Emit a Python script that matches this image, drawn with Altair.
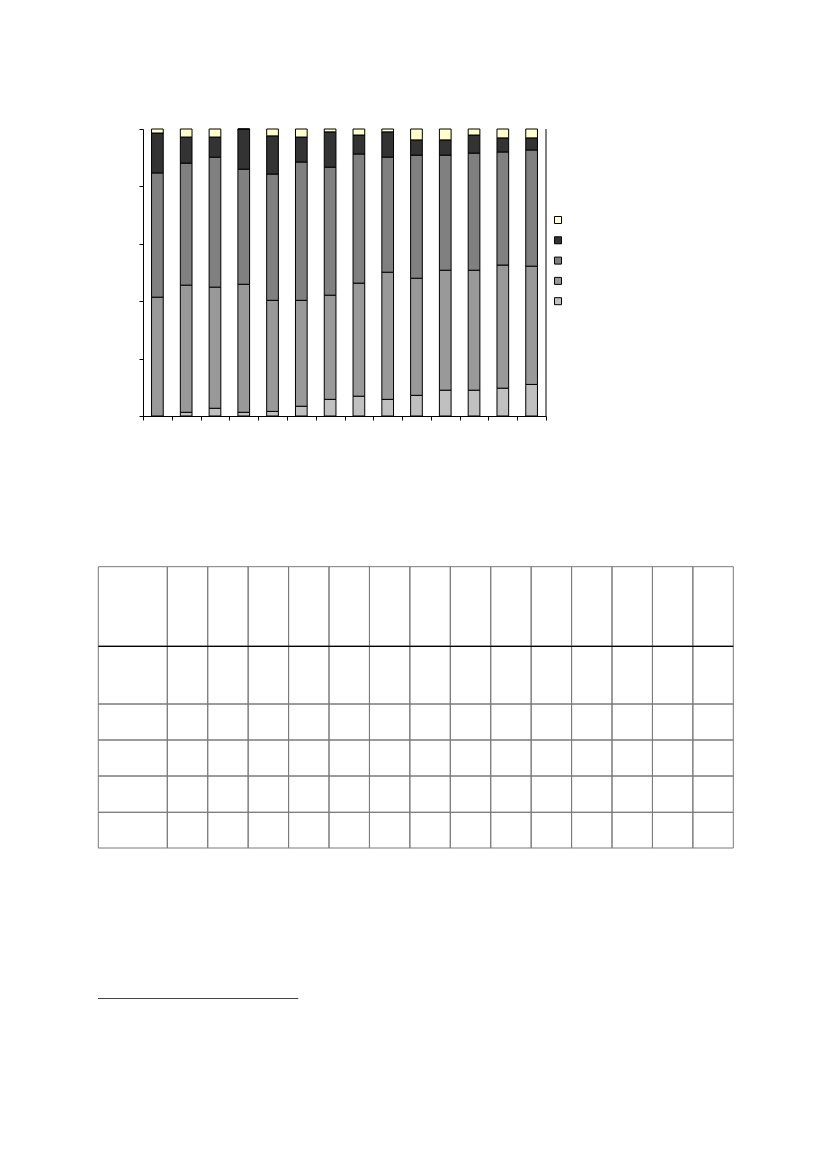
import altair as alt
import pandas as pd

# ---------------- data ----------------
categories = [f"C{i+1}" for i in range(14)]
# series listed bottom -> top of each stacked bar
series = ["S1", "S2", "S3", "S4", "S5"]
s1 = [0.0, 1.3, 2.7, 1.3, 1.6, 3.4, 5.8, 6.9, 5.8, 7.2, 9.0, 9.0, 9.7, 11.0]
s2 = [41.4, 44.3, 42.2, 44.6, 38.7, 36.9, 36.3, 39.4, 44.3, 40.8, 41.8, 41.8, 42.9, 41.2]
s3 = [43.3, 42.5, 45.3, 40.1, 44.0, 48.2, 44.6, 45.0, 40.1, 42.9, 40.1, 40.8, 39.4, 40.5]
s4 = [13.9, 9.1, 7.0, 14.0, 13.3, 8.7, 12.3, 6.6, 8.8, 5.3, 5.3, 6.3, 4.9, 4.2]
s5 = [1.4, 2.8, 2.8, 0.0, 2.4, 2.8, 1.0, 2.1, 1.0, 3.8, 3.8, 2.1, 3.1, 3.1]
values = [s1, s2, s3, s4, s5]
y_ticks = [0, 20, 40, 60, 80, 100]

# ---------------- styles / layout ----------------
colors = {"S1": "#c0c0c0", "S2": "#999999", "S3": "#808080", "S4": "#333333", "S5": "#ffffcc"}
label_col_ratio = 69.0 / 40.43          # first table column width relative to a data column
row_ratios = [79.6, 57.7, 36.0, 36.0, 36.3, 35.7]  # header row + one row per series

# ---------------- build long table ----------------
rows = []
for si, (name, vals) in enumerate(zip(series, values)):
    for ci, (cat, v) in enumerate(zip(categories, vals)):
        rows.append({"cat": cat, "idx": ci, "xc": ci + 0.5, "series": name, "order": si, "value": v})
df = pd.DataFrame(rows)
n = len(categories)
x_tick_vals = list(range(n + 1))

bars = alt.Chart(df).transform_stack(
    stack="value", groupby=["idx"], as_=["y0", "y1"], sort=[alt.SortField("order")]
).mark_bar(width=11.7, stroke="black", strokeWidth=1).encode(
    x=alt.X("xc:Q", scale=alt.Scale(domain=[0, n], nice=False, zero=False, padding=0),
            axis=alt.Axis(values=x_tick_vals, tickCount=len(x_tick_vals) + 5, labels=False,
                          tickSize=4, grid=False, domainColor="black", tickColor="black", title="")),
    y=alt.Y("y0:Q", scale=alt.Scale(domain=[0, 100], nice=False, padding=0),
            axis=alt.Axis(values=y_ticks, tickCount=len(y_ticks) + 2, labels=False, tickSize=4,
                          grid=False, domainColor="black", tickColor="black", title="")),
    y2="y1:Q",
    color=alt.Color("series:N",
                    scale=alt.Scale(domain=series[::-1], range=[colors[s] for s in series[::-1]]),
                    legend=alt.Legend(orient="none", legendX=410, legendY=86, title="",
                                      symbolType="square", symbolSize=49, symbolStrokeColor="black",
                                      symbolStrokeWidth=1, symbolOpacity=1, labelOpacity=0,
                                      labelFontSize=10, rowPadding=8.3, padding=0)),
)

frame = alt.Chart(pd.DataFrame({"a": [0]})).mark_rule(color="black", strokeWidth=1).encode(
    x=alt.datum(n), y=alt.datum(0), y2=alt.datum(100)
)

bar_group = alt.layer(bars, frame)

# ---------------- table grid ----------------
col_names = ["label"] + categories
col_w = [label_col_ratio] + [1.0] * n
col_edges = [0.0]
for w in col_w:
    col_edges.append(col_edges[-1] + w)
row_names = ["header"] + series
row_edges = [0.0]
for h in row_ratios:
    row_edges.append(row_edges[-1] + h)

cells = []
for ri, rn in enumerate(row_names):
    for ci, cn in enumerate(col_names):
        cells.append({"row": rn, "col": cn, "x0": col_edges[ci], "x1": col_edges[ci + 1],
                      "y0": row_edges[ri], "y1": row_edges[ri + 1]})
cells_df = pd.DataFrame(cells)
TW = col_edges[-1]
TH = row_edges[-1]

tx = alt.Scale(domain=[0, TW], range=[-44.7, 590.3], nice=False, zero=False)
ty = alt.Scale(domain=[0, TH], range=[437.7, 719.0], nice=False, zero=False)

table_cells = alt.Chart(cells_df).mark_rect(fillOpacity=0, stroke="#7a7a7a", strokeWidth=1).encode(
    x=alt.X("x0:Q", scale=tx, axis=None), x2="x1:Q",
    y=alt.Y("y0:Q", scale=ty, axis=None), y2="y1:Q",
)
header_line = alt.Chart(pd.DataFrame({"a": [0]})).mark_rule(color="black", strokeWidth=1.2).encode(
    x=alt.datum(0), x2=alt.datum(TW), y=alt.datum(row_edges[1])
)
table_group = alt.layer(table_cells, header_line)

# ---------------- footnote separator ----------------
foot = alt.Chart(pd.DataFrame({"a": [0]})).mark_rule(color="#444444", strokeWidth=1.2).encode(
    x=alt.value(-45), x2=alt.value(155.3), y=alt.value(869.5)
)

chart = alt.layer(bar_group, table_group, foot).resolve_scale(
    x="independent", y="independent"
).properties(
    width=403, height=287,
    padding={"left": 135, "top": 121, "right": 273, "bottom": 700},
    autosize=alt.AutoSizeParams(type="none"),
).configure_view(stroke="transparent")

chart.save("out.html", embed_options={"renderer": "svg", "actions": False})
